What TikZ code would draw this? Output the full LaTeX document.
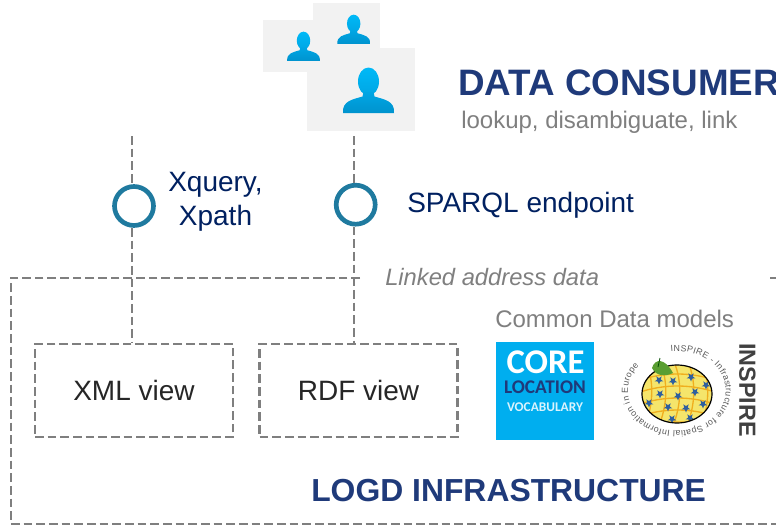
\documentclass[tikz,border=0pt]{standalone}
\usepackage{fontspec}
\setmainfont{Liberation Sans}
\newfontfamily\corefont{Carlito}
\usetikzlibrary{decorations.text}
\definecolor{dashgray}{HTML}{7F7F7F}
\definecolor{labelnavy}{HTML}{002060}
\definecolor{headnavy}{HTML}{1F3A7A}
\definecolor{ringteal}{HTML}{1F7A9F}
\definecolor{iconbg}{HTML}{F2F2F2}
\definecolor{corecyan}{HTML}{00AEEF}
\definecolor{bodytext}{HTML}{262626}
\definecolor{startop}{HTML}{00B9F7}
\definecolor{starmid}{HTML}{00A6E4}
\definecolor{starbot}{HTML}{0093CE}
\definecolor{mapyellow}{HTML}{F5E56B}
\definecolor{maporange}{HTML}{F0AE1E}
\definecolor{mapblue}{HTML}{2F5F9E}
\definecolor{leafgreen}{HTML}{5A9E32}
\newcommand{\fs}[1]{\fontsize{#1}{#1}\selectfont}
\newcommand{\personicon}[3]{%
  \begin{scope}[shift={(#1,#2)},scale=#3]
    \shade[top color=startop,bottom color=starmid] (0,13.5) ellipse[x radius=10.5,y radius=14];
    \shade[top color=starmid,bottom color=starbot]
      (-25.5,45) .. controls (-26.5,33) and (-16,31.5) .. (-6,28.5) -- (-5,24) -- (5,24) -- (6,28.5)
      .. controls (16,31.5) and (26.5,33) .. (25.5,45) -- cycle;
  \end{scope}}
\newcommand{\mapstar}[2]{%
  \fill[mapblue,shift={(#1,#2)}]
    (90:4.5) -- (126:1.9) -- (162:4.5) -- (198:1.9) -- (234:4.5) -- (270:1.9)
    -- (306:4.5) -- (342:1.9) -- (18:4.5) -- (54:1.9) -- cycle;}
\tikzset{
  dashline/.style={draw=dashgray,line width=1.6pt,dash pattern=on 6.5pt off 3pt},
  viewbox/.style={dashline,minimum width=148.5pt,minimum height=69.75pt,inner sep=0pt,text=bodytext,font=\fs{21}},
  access/.style={circle,draw=ringteal,line width=3.5pt,minimum size=29.25pt,inner sep=0pt},
  label/.style={inner sep=0pt,text=labelnavy,font=\fs{21},align=center},
  graylabel/.style={inner sep=0pt,text=dashgray,anchor=west},
  boldhead/.style={inner sep=0pt,text=headnavy,font=\bfseries\fs{23.9},anchor=west}
}
\begin{document}
\begin{tikzpicture}[x=0.75pt,y=-0.75pt]
\useasboundingbox (0,0) rectangle (776,525);
\clip (0,0) rectangle (776,525);
% user icons
\fill[iconbg] (263,20) rectangle (330,72);
\fill[iconbg] (313,3) rectangle (380,48);
\fill[iconbg] (307,48) rectangle (415,131);
\personicon{303.5}{32}{0.64}
\personicon{353.7}{15}{0.64}
\personicon{368.5}{68}{1}
% headings
\node[boldhead,font=\bfseries\fs{27.6}] (consumer) at (458,83) {DATA CONSUMER};
\node[graylabel,font=\fs{18}] (lookup) at (461,122.5) {lookup, disambiguate, link};
% access points
\node[access] (xq) at (134,206) {};
\node[access] (sp) at (355.7,204.7) {};
\node[label] (xqlabel) at (215.5,201.5) {Xquery,\\[4.5pt]Xpath};
\node[label,anchor=west] (splabel) at (407,205) {SPARQL endpoint};
% views
\node[viewbox] (xml) at (134,390.5) {XML view};
\node[viewbox] (rdf) at (358.5,390.5) {RDF view};
% connectors
\coordinate (t1) at (132.3,136);
\coordinate (t2) at (353.7,136);
\draw[dashline] (t1) -- (t1 |- xq.north);
\draw[dashline] (t1 |- xq.south) -- (t1 |- xml.north);
\draw[dashline] (t2) -- (t2 |- sp.north);
\draw[dashline] (t2 |- sp.south) -- (t2 |- rdf.north);
% infrastructure frame
\coordinate (f1) at (360,277.7);
\coordinate (f2) at (11,277.7);
\coordinate (f3) at (11,524);
\coordinate (f4) at (776,524);
\coordinate (f5) at (770,277.7);
\coordinate (f6) at (776,277.7);
\draw[dashline] (f1) -- (f2) -- (f3) -- (f4);
\draw[dashline] (f5) -- (f6);
\node[graylabel,font=\itshape\fs{17.8}] (linked) at (385,277.5) {Linked address data};
\node[graylabel,font=\fs{18}] (models) at (495,319) {Common Data models};
\node[boldhead] (logd) at (311,491) {LOGD INFRASTRUCTURE};
% CORE logo
\node[fill=corecyan,minimum size=73.5pt,inner sep=0pt] (core) at (545,391) {};
\node[inner sep=0pt,text=white,font=\corefont\bfseries\fs{26}] (coret) at (545.5,362) {CORE};
\node[inner sep=0pt,text=headnavy,font=\corefont\bfseries\fs{14.5}] (corel) at (545,387) {LOCATION};
\node[inner sep=0pt,text=white!85!corecyan,font=\corefont\bfseries\fs{10}] (corev) at (545,407) {VOCABULARY};
% INSPIRE logo
\begin{scope}
  \clip (677,394) ellipse[x radius=35,y radius=29];
  \fill[mapyellow] (677,394) ellipse[x radius=35,y radius=29];
  \foreach \yy in {375,387,399,411,423}
    \draw[maporange,line width=1pt] (640,\yy+5) .. controls (665,\yy-3) and (690,\yy-3) .. (715,\yy+5);
  \foreach \xx in {650,664,678,692,706}
    \draw[maporange,line width=1pt] (\xx-4,362) .. controls (\xx+4,380) and (\xx+4,405) .. (\xx-6,428);
  \mapstar{659}{380}\mapstar{673}{381}\mapstar{691}{377}\mapstar{706}{385}
  \mapstar{660}{394}\mapstar{678}{396}\mapstar{695}{392}\mapstar{649}{403}
  \mapstar{668}{407}\mapstar{686}{408}\mapstar{703}{404}\mapstar{672}{419}\mapstar{690}{418}
\end{scope}
\draw[black,line width=0.9pt] (677,394) ellipse[x radius=35,y radius=29];
\fill[leafgreen] (652,368) .. controls (655,358) and (665,358) .. (673,373)
  .. controls (665,377) and (656,376) .. (652,368) -- cycle;
\draw[black!70!green,line width=0.6pt] (658,367) -- (660,358);
\coordinate (ringstart) at (670.9,351.3);
\path[decorate,decoration={text along path,text align={fit to path},
  text={|\fs{6.6}\color{black!65}|INSPIRE - Infrastructure for Spatial Information in Europe}}]
  (ringstart) arc[start angle=-97,end angle=219,x radius=49,y radius=40];
\node[inner sep=0pt,rotate=-90,text=black!75,font=\bfseries\fs{17.5}] (inspire) at (747.5,390) {INSPIRE};
\end{tikzpicture}
\end{document}
